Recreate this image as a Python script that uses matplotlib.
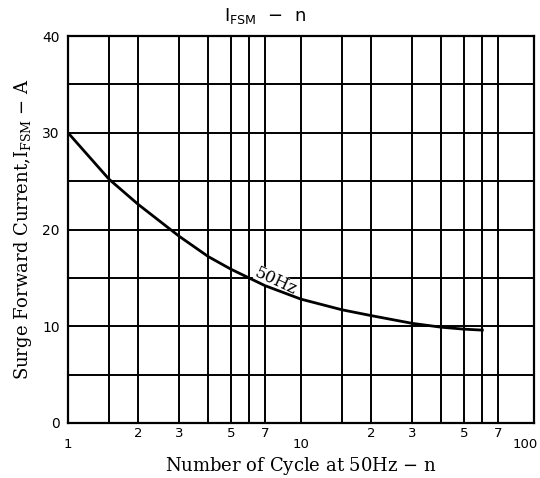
import matplotlib
matplotlib.use("Agg")
import matplotlib.pyplot as plt
from matplotlib.ticker import FixedLocator, FixedFormatter
from matplotlib.transforms import ScaledTranslation

# Data
cycles = [1, 1.5, 2, 3, 4, 5, 7, 10, 15, 20, 30, 40, 50, 60]
current = [30, 25.2, 22.6, 19.3, 17.2, 15.9, 14.2, 12.8, 11.7, 11.1, 10.3, 9.9, 9.7, 9.6]

major_x = [1, 10, 100]
major_x_labels = ["1", "10", "100"]
minor_x = [1.5, 2, 3, 4, 5, 6, 7, 15, 20, 30, 40, 50, 60, 70]
minor_x_labels = ["", "2", "3", "", "5", "", "7", "", "2", "3", "", "5", "", "7"]
y_grid = [0, 5, 10, 15, 20, 25, 30, 35, 40]
y_labels = ["0", "", "10", "", "20", "", "30", "", "40"]

fig = plt.figure(figsize=(5.4, 4.78), dpi=100)
ax = fig.add_axes([68/540, 1-423/478, (534-68)/540, (423-36)/478])

ax.set_xscale("log")
ax.set_xlim(1, 100)
ax.set_ylim(0, 40)

ax.plot(cycles, current, color="black", lw=2.0, zorder=4)

ax.xaxis.set_major_locator(FixedLocator(major_x))
ax.xaxis.set_major_formatter(FixedFormatter(major_x_labels))
ax.xaxis.set_minor_locator(FixedLocator(minor_x))
ax.xaxis.set_minor_formatter(FixedFormatter(minor_x_labels))
ax.yaxis.set_major_locator(FixedLocator(y_grid))
ax.yaxis.set_major_formatter(FixedFormatter(y_labels))

ax.tick_params(axis="x", which="major", length=0, pad=11, labelsize=9.5)
ax.tick_params(axis="x", which="minor", length=0, pad=3, labelsize=9.5)
ax.tick_params(axis="y", which="major", length=0, pad=6, labelsize=10)

ax.grid(which="both", color="black", lw=1.4, zorder=1)
for s in ax.spines.values():
    s.set_linewidth(1.6)
    s.set_zorder(5)

fig.canvas.draw()
last = ax.xaxis.get_majorticklabels()[-1]
last.set_transform(last.get_transform() + ScaledTranslation(-9/100, 0, fig.dpi_scale_trans))

ax.text(7.8, 14.6, "50Hz", rotation=-25, ha="center", va="center",
        fontsize=12, family="DejaVu Serif", zorder=3,
        bbox=dict(facecolor="white", edgecolor="none", pad=0.3))

ax.set_xlabel("Number of Cycle at 50Hz $-$ n", family="DejaVu Serif",
              fontsize=13, labelpad=3, math_fontfamily="dejavuserif")
ax.set_ylabel(r"Surge Forward Current,I$_{\rm FSM}$ $-$ A", family="DejaVu Serif",
              fontsize=13, labelpad=6, math_fontfamily="dejavuserif")

fig.text(0.49, 1-16/478, r"I$_{\rm FSM}$  $-$  n", ha="center", va="center",
         fontsize=13, family="DejaVu Sans", math_fontfamily="dejavusans")

fig.savefig("out.png", dpi=100)
